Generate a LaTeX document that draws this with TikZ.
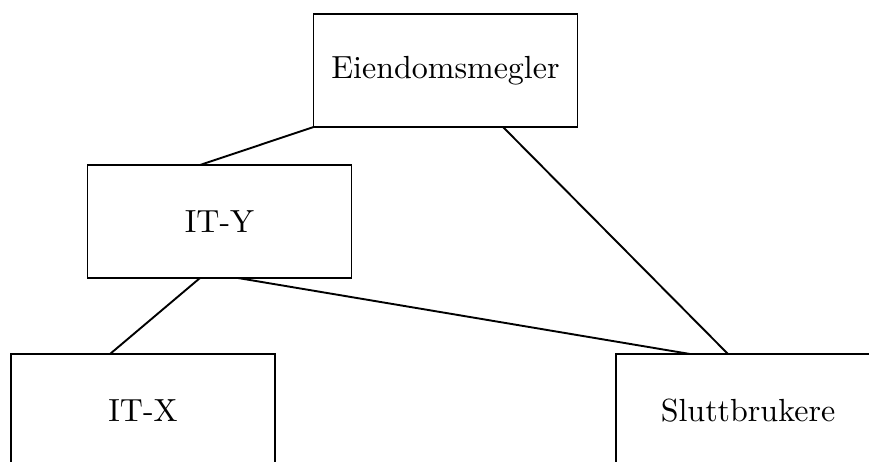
\documentclass[tikz,border=0pt]{standalone}
\usepackage{fontspec}
\setmainfont{lmroman10-regular}[Extension=.otf]
\begin{document}
\begin{tikzpicture}[x=1pt,y=-1pt,
  box/.style={draw,line width=1.9pt,minimum width=264pt,minimum height=113pt,inner sep=0pt,outer sep=0pt,font=\fontsize{32}{38}\selectfont},
  link/.style={line width=1.9pt}]
\useasboundingbox (0,0) rectangle (869,461);
\clip (0,0) rectangle (869,461);
\node[box] (em) at (445.5,70.5) {Eiendomsmegler};
\node[box] (ity) at (219.5,221.5) {IT-Y};
\node[box] (itx) at (143,410.5) {IT-X};
\node[box] (sl) at (748,410.5) {Sluttbrukere};
\draw[link] (em.south west) -- ([xshift=-19.5pt]ity.north);
\draw[link] ([xshift=57.5pt]em.south) -- ([xshift=112pt]sl.north west);
\draw[link] ([xshift=-19.5pt]ity.south) -- ([xshift=-33pt]itx.north);
\draw[link] ([xshift=18.5pt]ity.south) -- ([xshift=74pt]sl.north west);
\end{tikzpicture}
\end{document}
